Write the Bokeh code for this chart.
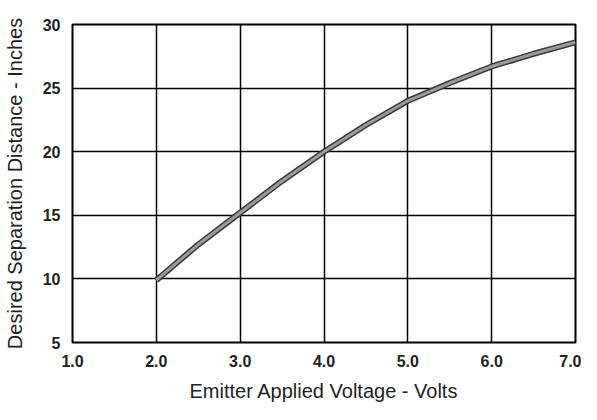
from bokeh.plotting import figure
from bokeh.models import Range1d, FixedTicker
from bokeh.embed import file_html
from bokeh.resources import INLINE

# Data
voltage = [2.0, 2.5, 3.0, 3.5, 4.0, 4.5, 5.0, 5.5, 6.0, 6.5, 7.0]
distance = [9.9, 12.7, 15.2, 17.7, 20.0, 22.1, 24.0, 25.4, 26.7, 27.7, 28.6]
x_ticks = [1, 2, 3, 4, 5, 6, 7]
x_tick_labels = ["1.0", "2.0", "3.0", "4.0", "5.0", "6.0", "7.0"]
y_ticks = [5, 10, 15, 20, 25, 30]

p = figure(width=581, height=404, output_backend="svg", toolbar_location=None,
           x_range=Range1d(1, 7), y_range=Range1d(5, 30),
           min_border_left=63, min_border_right=6, min_border_top=24, min_border_bottom=55)

p.outline_line_color = "black"
p.outline_line_width = 2
p.background_fill_color = "white"
p.border_fill_color = "white"

p.xaxis.ticker = FixedTicker(ticks=x_ticks)
p.xaxis.major_label_overrides = {t: l for t, l in zip(x_ticks, x_tick_labels)}
p.yaxis.ticker = FixedTicker(ticks=y_ticks)

for ax in (p.xaxis, p.yaxis):
    ax.axis_line_color = None
    ax.major_tick_line_color = None
    ax.minor_tick_line_color = None
    ax.major_label_text_font = "'Liberation Sans Narrow', 'Liberation Sans', sans-serif"
    ax.major_label_text_font_style = "bold"
    ax.major_label_text_font_size = "16px"
    ax.major_label_text_color = "#222222"
    ax.axis_label_text_font = "'Liberation Sans', sans-serif"
    ax.axis_label_text_font_style = "normal"
    ax.axis_label_text_font_size = "20px"
    ax.axis_label_text_color = "#222222"

p.xaxis.axis_label = "Emitter Applied Voltage - Volts"
p.yaxis.axis_label = "Desired Separation Distance - Inches"
p.xaxis.major_label_standoff = 6
p.xaxis.axis_label_standoff = 10
p.yaxis.major_label_standoff = 6
p.yaxis.axis_label_standoff = 14

p.xgrid.ticker = FixedTicker(ticks=x_ticks)
p.ygrid.ticker = FixedTicker(ticks=y_ticks)
for g in (p.xgrid, p.ygrid):
    g.grid_line_color = "black"
    g.grid_line_width = 1.5

p.line(voltage, distance, line_color="#3a3a3a", line_width=6)
p.line(voltage, distance, line_color="#9a9a9a", line_width=3)

open("out.html", "w").write(file_html(p, INLINE))
